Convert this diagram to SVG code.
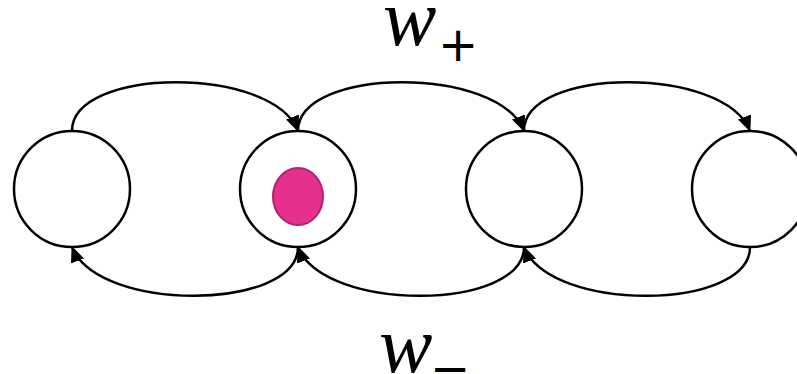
<svg xmlns="http://www.w3.org/2000/svg" width="797" height="374" viewBox="0 0 797 374">
<style>
.node{fill:#fff;stroke:#000;stroke-width:2.5}
.edge{fill:none;stroke:#000;stroke-width:2.5}
.lbl{font-family:"Liberation Serif",serif;font-style:italic;font-size:80px;fill:#000}
.sub{font-family:"DejaVu Sans",sans-serif;font-size:48px;fill:#000}
</style>
<defs>
<marker id="arr" viewBox="0 0 16 14" refX="15" refY="7" markerWidth="16" markerHeight="14" markerUnits="userSpaceOnUse" orient="auto">
<path d="M0,0 L16,7 L0,14 Z" fill="#000"/>
</marker>
</defs>
<rect width="797" height="374" fill="#fff"/>
<g id="connectors">
<path class="edge" marker-end="url(#arr)" d="M72,131 C72,67 272,65 298,131"/>
<path class="edge" marker-end="url(#arr)" d="M298,131 C298,67 498,65 524,131"/>
<path class="edge" marker-end="url(#arr)" d="M524,131 C524,67 724,65 750,131"/>
<path class="edge" marker-end="url(#arr)" d="M298,247 C298,311 98,313 72,247"/>
<path class="edge" marker-end="url(#arr)" d="M524,247 C524,311 324,313 298,247"/>
<path class="edge" marker-end="url(#arr)" d="M750,247 C750,311 550,313 524,247"/>
</g>
<g id="n1"><circle class="node" cx="72" cy="189" r="58"/></g>
<g id="n2"><circle class="node" cx="298" cy="189" r="58"/>
<ellipse cx="298" cy="196.5" rx="25" ry="28.5" fill="#E6308F" stroke="#B0246C" stroke-width="2"/></g>
<g id="n3"><circle class="node" cx="524" cy="189" r="58"/></g>
<g id="n4"><circle class="node" cx="750" cy="189" r="58"/></g>
<g id="label-plus"><text class="lbl" x="383" y="45">w</text><text class="sub" x="438" y="61">+</text></g>
<g id="label-minus"><text class="lbl" x="379" y="372">w</text><text class="sub" x="430" y="385">−</text></g>
</svg>
